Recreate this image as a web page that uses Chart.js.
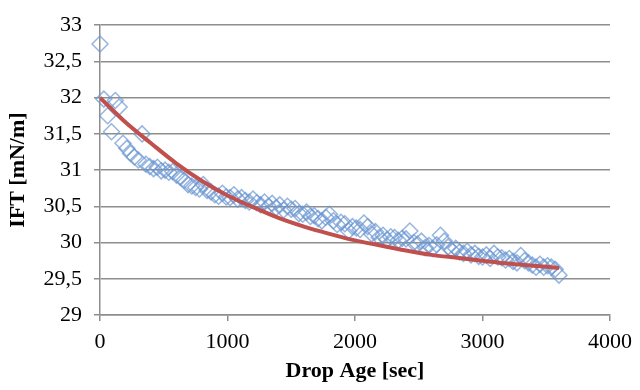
<!DOCTYPE html>
<html>
<head>
<meta charset="utf-8">
<title>IFT vs Drop Age</title>
<script src="https://cdn.jsdelivr.net/npm/chart.js@4.4.1/dist/chart.umd.min.js"></script>
<style>
    html, body { margin: 0; padding: 0; background: #ffffff; }
    #iftChart { display: block; }
</style>
</head>
<body>
<canvas id="iftChart" width="640" height="390"></canvas>
<script>
// measured drop age [sec] and interfacial tension [mN/m]
const ageSec = [
    0, 30, 60, 90, 120, 150, 180, 210, 240, 270, 300, 330, 360, 390, 420, 450, 480, 510, 540, 570,
    600, 630, 660, 690, 720, 750, 780, 810, 840, 870, 900, 930, 960, 990, 1020, 1050, 1080, 1110, 1140, 1170,
    1200, 1230, 1260, 1290, 1320, 1350, 1380, 1410, 1440, 1470, 1500, 1530, 1560, 1590, 1620, 1650, 1680, 1710, 1740, 1770,
    1800, 1830, 1860, 1890, 1920, 1950, 1980, 2010, 2040, 2070, 2100, 2130, 2160, 2190, 2220, 2250, 2280, 2310, 2340, 2370,
    2400, 2430, 2460, 2490, 2520, 2550, 2580, 2610, 2640, 2670, 2700, 2730, 2760, 2790, 2820, 2850, 2880, 2910, 2940, 2970,
    3000, 3030, 3060, 3090, 3120, 3150, 3180, 3210, 3240, 3270, 3300, 3330, 3360, 3390, 3420, 3450, 3480, 3510, 3540, 3570,
    3600
];
const iftMeasured = [
    32.74, 31.98, 31.75, 31.53, 31.96, 31.87, 31.37, 31.30, 31.23, 31.18, 31.14, 31.50, 31.08, 31.05, 31.02, 31.04, 30.99, 31.00, 30.97, 30.98,
    30.93, 30.90, 30.86, 30.80, 30.78, 30.76, 30.74, 30.80, 30.72, 30.70, 30.66, 30.64, 30.68, 30.63, 30.62, 30.66, 30.60, 30.62, 30.58, 30.56,
    30.60, 30.55, 30.52, 30.56, 30.50, 30.54, 30.48, 30.52, 30.45, 30.50, 30.46, 30.47, 30.40, 30.39, 30.42, 30.36, 30.37, 30.33, 30.30, 30.35,
    30.39, 30.30, 30.25, 30.28, 30.26, 30.16, 30.22, 30.20, 30.18, 30.27, 30.22, 30.12, 30.15, 30.07, 30.10, 30.04, 30.08, 30.07, 30.03, 30.06,
    30.05, 30.16, 30.00, 29.98, 30.02, 29.93, 29.96, 29.92, 29.97, 30.10, 30.02, 29.94, 29.89, 29.92, 29.87, 29.85, 29.88, 29.83, 29.85, 29.81,
    29.80, 29.83, 29.78, 29.85, 29.80, 29.79, 29.76, 29.78, 29.74, 29.72, 29.82, 29.75, 29.72, 29.69, 29.66, 29.70, 29.66, 29.68, 29.66, 29.63,
    29.55
];

// fitted trend curve
const fitAgeSec = [0, 200, 400, 600, 800, 1000, 1200, 1400, 1600, 1800, 2000, 2200, 2400, 2600, 2800, 3000, 3200, 3400, 3600];
const fitIft = [32.00, 31.66, 31.37, 31.09, 30.85, 30.65, 30.49, 30.34, 30.22, 30.12, 30.03, 29.96, 29.89, 29.83, 29.79, 29.75, 29.71, 29.68, 29.65];

const xTicks = [0, 1000, 2000, 3000, 4000];
const yTicks = [29, 29.5, 30, 30.5, 31, 31.5, 32, 32.5, 33];

const measuredPoints = ageSec.map((x, i) => ({ x: x, y: iftMeasured[i] }));
const fitPoints = fitAgeSec.map((x, i) => ({ x: x, y: fitIft[i] }));

const serif = "'Liberation Serif', 'Times New Roman', serif";
const gridGray = "#8e8e8e";

new Chart(document.getElementById("iftChart"), {
    type: "scatter",
    data: {
        datasets: [
            {
                type: "line",
                label: "Fit",
                data: fitPoints,
                borderColor: "#c0504d",
                borderWidth: 4,
                pointRadius: 0,
                cubicInterpolationMode: "monotone",
                fill: false
            },
            {
                label: "IFT",
                data: measuredPoints,
                pointStyle: "rectRot",
                pointRadius: 8,
                borderWidth: 1.5,
                borderColor: "rgba(105, 150, 210, 0.7)",
                backgroundColor: "rgba(0, 0, 0, 0)",
                showLine: false,
                clip: false
            }
        ]
    },
    options: {
        responsive: false,
        animation: false,
        devicePixelRatio: 1,
        layout: { padding: { top: 22, right: 28, bottom: 0, left: 0 } },
        plugins: {
            legend: { display: false },
            tooltip: { enabled: false }
        },
        scales: {
            x: {
                type: "linear",
                min: 0,
                max: 4000,
                afterBuildTicks: (axis) => { axis.ticks = xTicks.map(v => ({ value: v })); },
                afterFit: (axis) => { axis.height = 75; },
                grid: {
                    drawOnChartArea: false,
                    drawTicks: true,
                    tickLength: 6,
                    color: gridGray,
                    lineWidth: 1.5
                },
                border: { color: gridGray, width: 1.5 },
                ticks: {
                    padding: 8,
                    color: "#000",
                    font: { family: serif, size: 22 },
                    callback: (v) => String(v)
                },
                title: {
                    display: true,
                    text: "Drop Age [sec]",
                    color: "#000",
                    padding: { top: 0, bottom: 5 },
                    font: { family: serif, size: 22, weight: "bold" }
                }
            },
            y: {
                type: "linear",
                min: 29,
                max: 33,
                afterBuildTicks: (axis) => { axis.ticks = yTicks.map(v => ({ value: v })); },
                afterFit: (axis) => { axis.width = 100; },
                grid: {
                    drawTicks: true,
                    tickLength: 6,
                    color: gridGray,
                    lineWidth: 1.5
                },
                border: { color: gridGray, width: 1.5 },
                ticks: {
                    padding: 12,
                    color: "#000",
                    font: { family: serif, size: 22 },
                    callback: (v) => String(v).replace(".", ",")
                },
                title: {
                    display: true,
                    text: "IFT [mN/m]",
                    color: "#000",
                    padding: { top: 5, bottom: 0 },
                    font: { family: serif, size: 22, weight: "bold" }
                }
            }
        }
    }
});
</script>
</body>
</html>
